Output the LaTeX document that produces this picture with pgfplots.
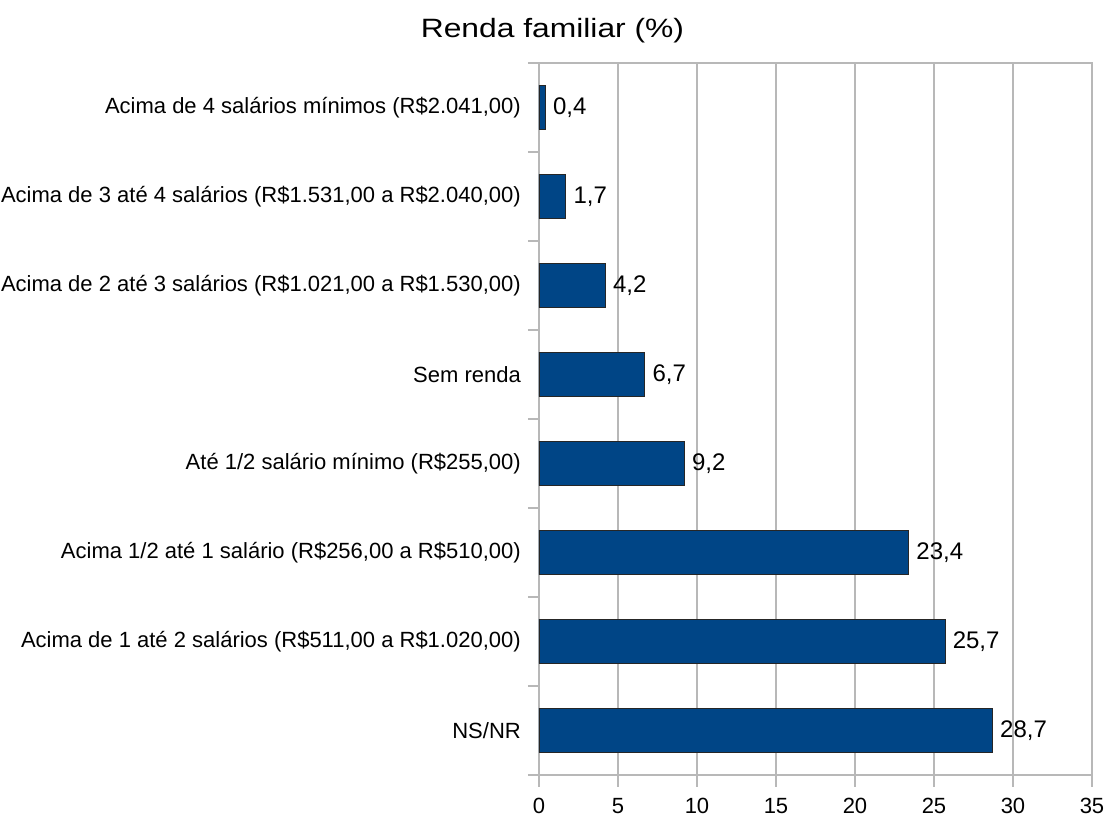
\documentclass[border=0pt]{standalone}
\usepackage{pgfplots}
\pgfplotsset{compat=1.18}
\usepackage{fontspec}
\setmainfont{Liberation Sans}

\definecolor{barblue}{HTML}{004586}
\definecolor{gridgray}{HTML}{B8B8B8}

\begin{document}
\begin{tikzpicture}
\useasboundingbox (-539pt,-43pt) rectangle (566pt,775pt);
\begin{axis}[
    at={(0,0)}, anchor=south west,
    scale only axis, width=553pt, height=712pt,
    xbar, bar width=44.5pt,
    xmin=0, xmax=35, ymin=-0.5, ymax=7.5,
    xtick={0,5,...,35},
    ytick={0,...,7},
    yticklabels={{NS/NR},
      {Acima de 1 até 2 salários (R\$511,00 a R\$1.020,00)},
      {Acima 1/2 até 1 salário (R\$256,00 a R\$510,00)},
      {Até 1/2 salário mínimo (R\$255,00)},
      {Sem renda},
      {Acima de 2 até 3 salários (R\$1.021,00 a R\$1.530,00)},
      {Acima de 3 até 4 salários (R\$1.531,00 a R\$2.040,00)},
      {Acima de 4 salários mínimos (R\$2.041,00)}},
    minor ytick={-0.5,0.5,...,7.5},
    xtick pos=bottom, ytick pos=left,
    major y tick style={draw=none},
    minor y tick style={draw=gridgray, line width=1.2pt},
    major x tick style={draw=gridgray, line width=1.2pt},
    tick align=outside, major tick length=12pt, minor tick length=11pt,
    xmajorgrids, grid style={draw=gridgray, line width=1.2pt},
    axis line style={draw=gridgray, line width=1.2pt},
    /pgf/number format/assume math mode=true,
    every tick label/.append style={font=\fontsize{22}{26}\selectfont},
    x tick label style={yshift=-8pt},
    y tick label style={inner sep=0pt, xshift=-6pt},
    nodes near coords,
    nodes near coords style={font=\fontsize{24}{28}\selectfont, anchor=west, xshift=4pt,
      /pgf/number format/.cd, fixed, fixed zerofill, precision=1, use comma, assume math mode=true},
    title={\scalebox{1.2}[1]{Renda familiar (\%)}},
    title style={font=\fontsize{26.5}{30}\selectfont, at={(axis description cs:0.0244,1)}, anchor=base, yshift=19.7pt},
]
\addplot[fill=barblue, draw=black!85, line width=0.8pt] coordinates {
    (28.7,0) (25.7,1) (23.4,2) (9.2,3) (6.7,4) (4.2,5) (1.7,6) (0.4,7)};
\end{axis}
\end{tikzpicture}
\end{document}
